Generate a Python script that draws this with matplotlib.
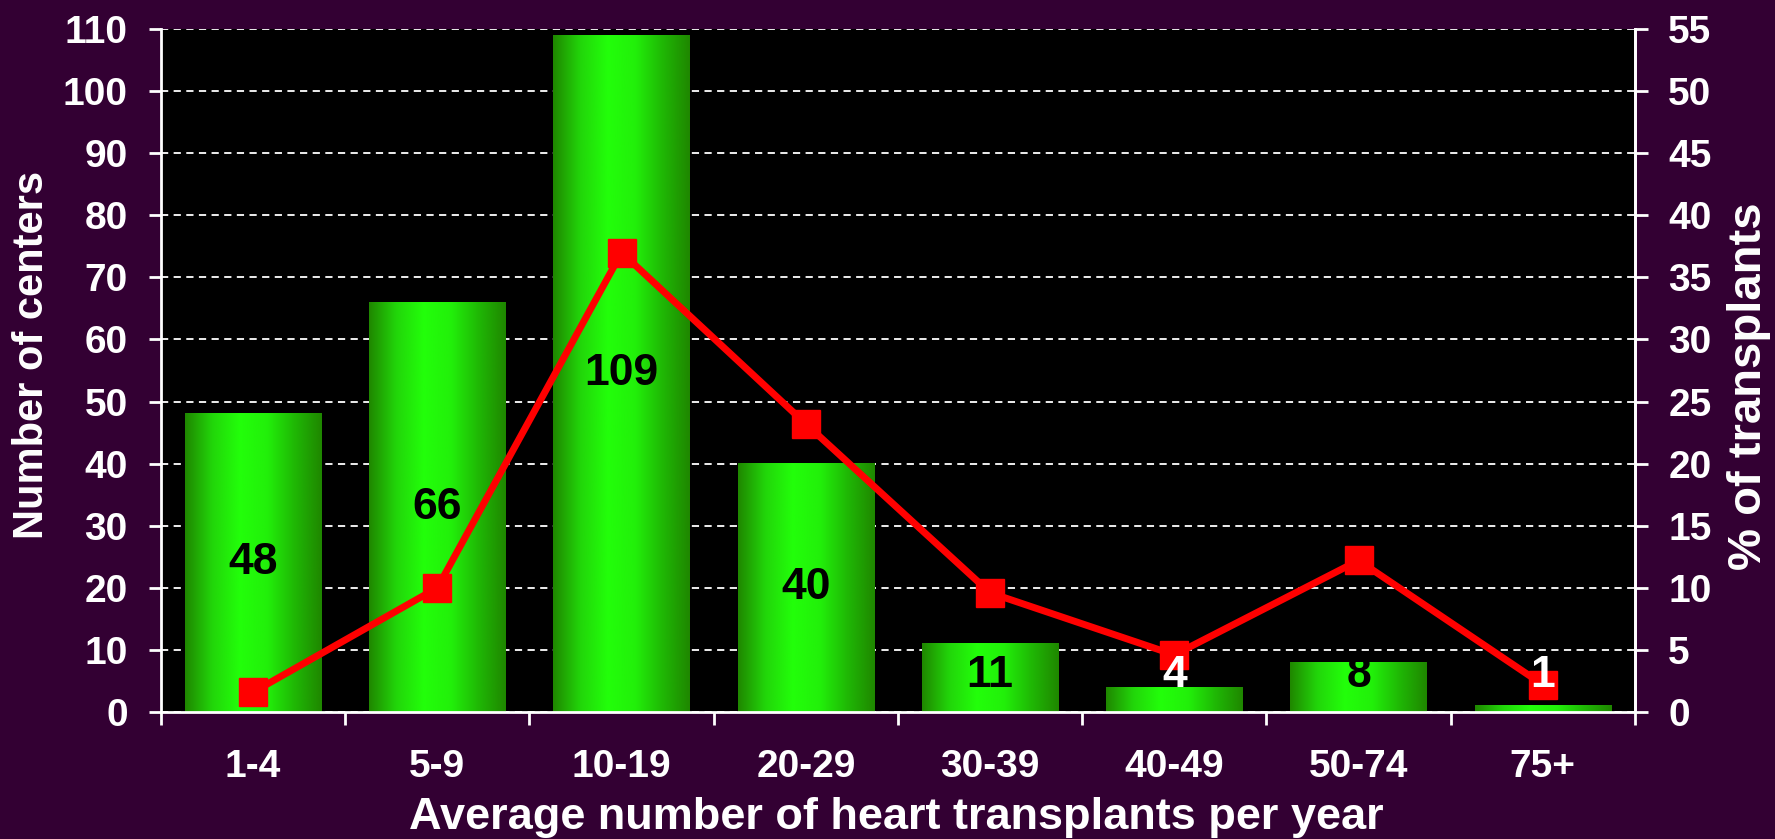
import numpy as np
import matplotlib
matplotlib.use("Agg")
import matplotlib.pyplot as plt
from matplotlib.colors import LinearSegmentedColormap

categories = ["1-4", "5-9", "10-19", "20-29", "30-39", "40-49", "50-74", "75+"]
centers = [48, 66, 109, 40, 11, 4, 8, 1]
pct_transplants = [1.6, 10.0, 37.0, 23.2, 9.6, 4.6, 12.2, 2.2]

BG = "#330033"
plt.rcParams["font.family"] = ["Liberation Sans", "DejaVu Sans"]
plt.rcParams["font.weight"] = "bold"

fig = plt.figure(figsize=(17.75, 8.39), dpi=100, facecolor=BG)
ax = fig.add_axes([0.0907, 0.1514, 0.8304, 0.814])
ax.set_facecolor("black")

x = np.arange(len(categories))
width = 0.74

# bars with horizontal gradient
green = LinearSegmentedColormap.from_list(
    "bar", ["#1f8700", "#22d60a", "#22ff0a", "#22f00a", "#1fb805", "#1f8700"])
grad = np.linspace(0, 1, 256).reshape(1, -1)
bars = ax.bar(x, centers, width=width, color="none", zorder=2)
for rect in bars:
    bx, by = rect.get_x(), rect.get_y()
    bw, bh = rect.get_width(), rect.get_height()
    ax.imshow(grad, cmap=green, aspect="auto", zorder=2,
              extent=[bx, bx + bw, by, by + bh], interpolation="bicubic")

ax.set_xlim(-0.5, len(categories) - 0.5)
ax.set_ylim(0, 110)
ax.set_yticks(range(0, 111, 10))
ax.set_xticks(x)
ax.set_xticklabels(categories)
ax.set_xticks(np.arange(-0.5, len(categories), 1), minor=True)

ax.yaxis.grid(True, color="white", linestyle=(0, (4, 3)), linewidth=1.3, zorder=1)
ax.set_axisbelow(True)

ax.spines["top"].set_visible(False)
for side in ["left", "bottom", "right"]:
    ax.spines[side].set_color("white")
    ax.spines[side].set_linewidth(2)

ax.tick_params(axis="y", colors="white", labelsize=28, length=9, width=2,
               pad=15, direction="out")
ax.tick_params(axis="x", which="major", colors="white", labelsize=28,
               length=0, pad=27)
ax.tick_params(axis="x", which="minor", color="white", length=9, width=2)

ax.set_xlabel("Average number of heart transplants per year", color="white",
              fontsize=32.5, fontweight="bold")
ax.xaxis.label.set_va("center")
ax.xaxis.set_label_coords(0.499, -0.154)
ax.set_ylabel("Number of centers", color="white", fontsize=30,
              fontweight="bold")
ax.yaxis.label.set_va("center")
ax.yaxis.set_label_coords(-0.0875, 0.523)

# line on right axis
ax2 = ax.twinx()
ax2.set_ylim(0, 55)
ax2.set_yticks(range(0, 56, 5))
ax2.plot(x, pct_transplants, color="#ff0000", linewidth=5, marker="s",
         markersize=20, zorder=4)
for side in ["top", "left", "bottom"]:
    ax2.spines[side].set_visible(False)
ax2.spines["right"].set_color("white")
ax2.spines["right"].set_linewidth(2)
ax2.tick_params(axis="y", colors="white", labelsize=28, length=9, width=2,
                pad=15)
ax2.set_ylabel("% of transplants", color="white", fontsize=34,
               fontweight="bold")
ax2.yaxis.label.set_va("center")
ax2.yaxis.set_label_coords(1.0773, 0.477)

# value labels inside bars
for xi, v in zip(x, centers):
    ypos = max(v / 2.0, 5.8)
    col = "black" if v >= 8 else "white"
    ax2.text(xi, ypos / 2.0, str(v), ha="center", va="center", color=col,
             fontsize=32, fontweight="bold", zorder=6)

fig.savefig("out.png", dpi=100, facecolor=BG)
